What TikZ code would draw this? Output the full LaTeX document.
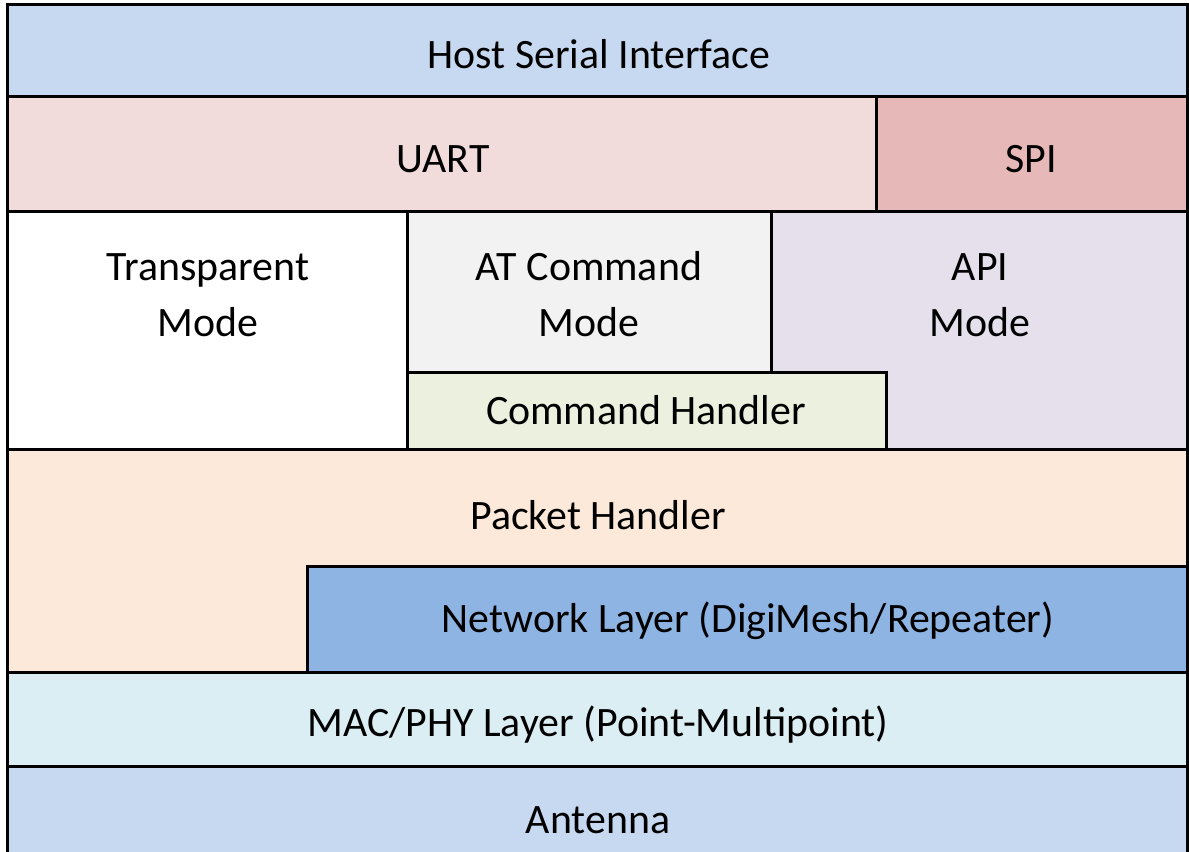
\documentclass[tikz,border=0pt]{standalone}
\usepackage{fontspec}
\setmainfont{Carlito}
\definecolor{hostblue}{HTML}{C6D9F1}
\definecolor{uartpink}{HTML}{F2DCDB}
\definecolor{spipink}{HTML}{E6B9B8}
\definecolor{atgray}{HTML}{F2F2F2}
\definecolor{apilav}{HTML}{E5E0EC}
\definecolor{cmdgreen}{HTML}{EBF1DE}
\definecolor{pktpeach}{HTML}{FDE9D9}
\definecolor{netblue}{HTML}{8EB4E3}
\definecolor{macblue}{HTML}{DBEEF4}
\begin{document}
\begin{tikzpicture}[x=0.75pt,y=-0.75pt,
  layer/.style={draw=black,line width=2.25pt},
  lbl/.style={anchor=base,inner sep=0pt,align=center,font=\fontsize{31.4}{42}\selectfont,text=black}]
\useasboundingbox (0,0) rectangle (1189,852);
% boxes
\filldraw[layer,fill=hostblue] (7,5) rectangle (1187,97);
\filldraw[layer,fill=uartpink] (7,97) rectangle (876,212);
\filldraw[layer,fill=spipink] (876,97) rectangle (1187,212);
\filldraw[layer,fill=white] (7,212) rectangle (407,449);
\filldraw[layer,fill=atgray] (407,212) rectangle (771,372);
\filldraw[layer,fill=apilav] (771,212) rectangle (1187,449);
\filldraw[layer,fill=cmdgreen] (407,372) rectangle (886,449);
\filldraw[layer,fill=pktpeach] (7,449) rectangle (1187,672);
\filldraw[layer,fill=netblue] (307,566) rectangle (1187,672);
\filldraw[layer,fill=macblue] (7,672) rectangle (1187,766);
\filldraw[layer,fill=hostblue] (7,766) rectangle (1187,870);
% labels
\node[lbl] (host) at (599,69) {Host Serial Interface};
\node[lbl] (uart) at (443,173) {UART};
\node[lbl] (spi) at (1031,173) {SPI};
\node[lbl] (trans) at (208,336) {Transparent\\Mode};
\node[lbl] (at) at (589,336) {AT Command\\Mode};
\node[lbl] (api) at (980,336) {API\\Mode};
\node[lbl] (cmd) at (646,424) {Command Handler};
\node[lbl] (pkt) at (598,529) {Packet Handler};
\node[lbl] (net) at (748,632) {Network Layer (DigiMesh/Repeater)};
\node[lbl] (mac) at (598,736) {MAC/PHY Layer (Point-Multipoint)};
\node[lbl] (ant) at (598,833) {Antenna};
\end{tikzpicture}
\end{document}
